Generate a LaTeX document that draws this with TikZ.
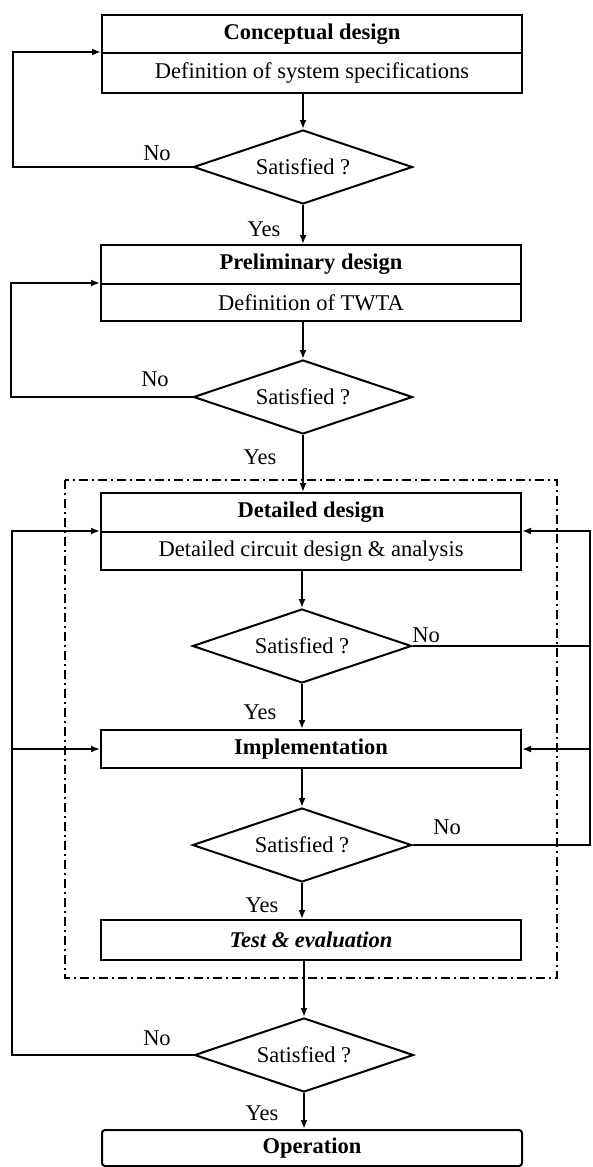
\documentclass[tikz,border=0pt]{standalone}
\usepackage{fontspec}
\setmainfont{Liberation Serif}
\usetikzlibrary{shapes.geometric,arrows.meta}
\begin{document}
\begin{tikzpicture}[x=1pt,y=-1pt, line width=2pt,
  box/.style={draw, rectangle, minimum width=420pt, inner sep=0pt, font=\fontsize{22.5}{26}\selectfont},
  hbox/.style={box, font=\fontsize{22.5}{26}\selectfont\bfseries},
  dia/.style={draw, diamond, aspect=2.95, minimum width=219pt, minimum height=74pt, inner sep=0pt, font=\fontsize{22.5}{26}\selectfont},
  arr/.style={-{Latex[length=9pt,width=7pt]}},
  lbl/.style={font=\fontsize{22.5}{26}\selectfont, inner sep=0pt},
  frame/.style={line width=2pt, dash pattern=on 9pt off 4pt on 2pt off 4pt}]
\useasboundingbox (0,0) rectangle (593,1167);

% boxes
\node[hbox, minimum height=38pt] (conc) at (312,34) {Conceptual design};
\node[box, minimum height=40pt] (concb) at (312,73) {Definition of system specifications};
\node[hbox, minimum height=39pt] (prel) at (311,264.5) {Preliminary design};
\node[box, minimum height=37pt] (prelb) at (311,302.5) {Definition of TWTA};
\node[hbox, minimum height=39pt] (det) at (311,512.5) {Detailed design};
\node[box, minimum height=38pt] (detb) at (311,551) {Detailed circuit design \& analysis};
\node[hbox, minimum height=38pt] (impl) at (311,749) {Implementation};
\node[hbox, minimum height=40pt, font=\fontsize{22.5}{26}\selectfont\bfseries\itshape] (test) at (311,940) {Test \& evaluation};
\node[hbox, minimum height=36pt, rounded corners=3pt] (oper) at (312,1148) {Operation};

% diamonds
\node[dia] (d1) at (303,167) {Satisfied ?};
\node[dia] (d2) at (303,397) {Satisfied ?};
\node[dia] (d3) at (302,646) {Satisfied ?};
\node[dia] (d4) at (302,845) {Satisfied ?};
\node[dia] (d5) at (304,1055) {Satisfied ?};

% frame
\draw[frame] (65,480) rectangle (557,978);

% loop corner coordinates
\coordinate (l1) at (13,167);
\coordinate (l2) at (11,397);
\coordinate (l5) at (12,1055);
\coordinate (lm) at (12,749);
\coordinate (r4) at (590,845);
\coordinate (r3) at (590,646);
\coordinate (rm) at (590,749);

% main flow
\draw[arr] (concb.south -| d1.north) -- (d1.north);
\draw[arr] (d1.south) -- (d1.south |- prel.north);
\draw[arr] (prelb.south -| d2.north) -- (d2.north);
\draw[arr] (d2.south) -- (d2.south |- det.north);
\draw[arr] (detb.south -| d3.north) -- (d3.north);
\draw[arr] (d3.south) -- (d3.south |- impl.north);
\draw[arr] (impl.south -| d4.north) -- (d4.north);
\draw[arr] (d4.south) -- (d4.south |- test.north);
\draw[arr] (test.south -| d5.north) -- (d5.north);
\draw[arr] (d5.south) -- (d5.south |- oper.north);

% left loops
\draw[arr] (d1.west) -- (l1) |- (concb.north west);
\draw[arr] (d2.west) -- (l2) |- (prelb.north west);
\draw[arr] (d5.west) -- (l5) |- (detb.north west);
\draw[arr] (lm) -- (impl.west);

% right loops
\draw (d3.east) -- (r3);
\draw[arr] (d4.east) -- (r4) |- (detb.north east);
\draw[arr] (rm) -- (impl.east);

% labels
\node[lbl] (n1) at (157,153) {No};
\node[lbl] (n2) at (155,379) {No};
\node[lbl] (n3) at (426,635) {No};
\node[lbl] (n4) at (447,827) {No};
\node[lbl] (n5) at (157,1038) {No};
\node[lbl] (y1) at (264,229) {Yes};
\node[lbl] (y2) at (260,457) {Yes};
\node[lbl] (y3) at (260,712) {Yes};
\node[lbl] (y4) at (262,905) {Yes};
\node[lbl] (y5) at (262,1113) {Yes};
\end{tikzpicture}
\end{document}
